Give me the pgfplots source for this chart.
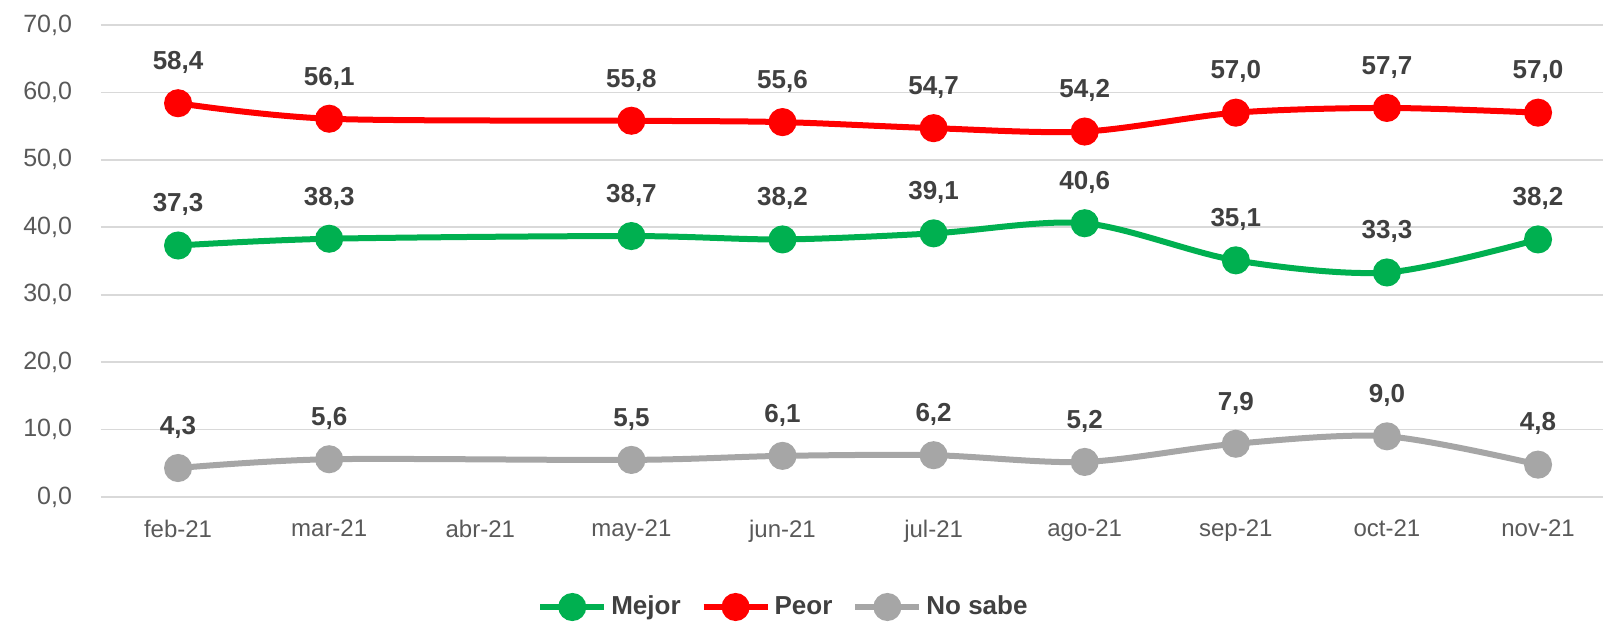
\documentclass[border=0pt]{standalone}
\usepackage{fontspec}
\setmainfont{Liberation Sans}
\usepackage{pgfplots}
\pgfplotsset{compat=1.18}

\definecolor{cMejor}{HTML}{00B050}
\definecolor{cPeor}{HTML}{FF0000}
\definecolor{cNS}{HTML}{A6A6A6}
\definecolor{cGrid}{HTML}{D9D9D9}
\definecolor{cTxt}{HTML}{595959}
\definecolor{cLab}{HTML}{404040}

\begin{document}
\begin{tikzpicture}
\begin{axis}[
  scale only axis,
  width=751pt, height=236pt,
  xmin=-0.51, xmax=9.43,
  ymin=0, ymax=70,
  ytick={0,10,...,70},
  xtick={0,...,9},
  xticklabels={feb-21,mar-21,abr-21,may-21,jun-21,jul-21,ago-21,sep-21,oct-21,nov-21},
  axis line style={draw=none},
  major tick length=0pt,
  ymajorgrids,
  grid style={cGrid, line width=0.9pt},
  yticklabel style={font=\fontsize{12.5}{14}\selectfont, color=cTxt, xshift=-11pt},
  xticklabel style={font=\fontsize{12}{14}\selectfont, color=cTxt, yshift=-8pt},
  /pgf/number format/.cd, fixed, fixed zerofill, precision=1, use comma, assume math mode=true,
  /pgfplots/.cd,
  every axis plot/.append style={line width=3pt, smooth, mark=*, mark size=5.5pt,
    nodes near coords,
    every node near coord/.append style={font=\bfseries\fontsize{13}{15}\selectfont,
      color=cLab, anchor=south, yshift=10pt}},
  legend columns=3,
  legend style={draw=none, fill=none, at={(0.455,0)}, yshift=-55pt, anchor=center,
    font=\bfseries\fontsize{13}{15}\selectfont, text=cLab,
    /tikz/every even column/.append style={column sep=8pt}},
  legend image code/.code={
    \draw[#1, mark repeat=2, mark phase=2] plot coordinates {(0pt,0pt) (16pt,0pt) (32pt,0pt)};
  },
]
\addplot[color=cMejor] coordinates {
  (0,37.3) (1,38.3) (3,38.7) (4,38.2) (5,39.1) (6,40.6) (7,35.1) (8,33.3) (9,38.2)};
\addplot[color=cPeor] coordinates {
  (0,58.4) (1,56.1) (3,55.8) (4,55.6) (5,54.7) (6,54.2) (7,57.0) (8,57.7) (9,57.0)};
\addplot[color=cNS] coordinates {
  (0,4.3) (1,5.6) (3,5.5) (4,6.1) (5,6.2) (6,5.2) (7,7.9) (8,9.0) (9,4.8)};
\legend{Mejor, Peor, No sabe}
\end{axis}
\pgfresetboundingbox
\path (current axis.south west) ++(-50.5pt,-63pt) coordinate (bl);
\path (current axis.north east) ++(0pt,12.5pt) coordinate (tr);
\path[use as bounding box] (bl) rectangle (tr);
\end{tikzpicture}
\end{document}
